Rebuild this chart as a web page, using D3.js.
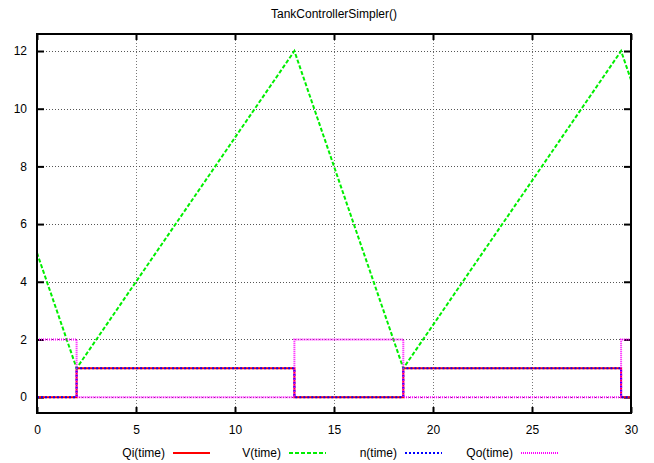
<!DOCTYPE html>
<html>
<head>
<meta charset="utf-8">
<script src="https://cdn.jsdelivr.net/npm/d3@7"></script>
<style>
  body { margin: 0; background: #fff; }
  svg { display: block; font-family: "Liberation Sans", Arial, sans-serif; }
</style>
</head>
<body>
<div id="chart"></div>
<script>
// event times of the simulation (piecewise / step data)
const times = [0, 2, 13, 18.5, 29.5, 30];
const qi = [0, 1, 0, 1, 0, 0];
const vol = [5, 1, 12, 1, 12, 11];
const nn = [0, 1, 0, 1, 0, 0];
const qo = [2, 0, 2, 0, 2, 2];

const xTicks = [0, 5, 10, 15, 20, 25, 30];
const yTicks = [0, 2, 4, 6, 8, 10, 12];

const W = 654, H = 463;
const plot = { left: 37, right: 631, top: 34, bottom: 413 };

const svg = d3.select("#chart").append("svg")
    .attr("width", W)
    .attr("height", H);

const x = d3.scaleLinear().domain([0, 30]).range([plot.left, plot.right]);
const y = d3.scaleLinear().domain([-0.55, 12.59]).range([plot.bottom, plot.top]);

// grid
const grid = svg.append("g").attr("shape-rendering", "crispEdges");
grid.selectAll(".gx")
    .data(xTicks.slice(1, -1))
    .enter().append("line")
        .attr("x1", d => Math.round(x(d)) + 0.5)
        .attr("x2", d => Math.round(x(d)) + 0.5)
        .attr("y1", plot.top)
        .attr("y2", plot.bottom)
        .attr("stroke", "#777")
        .attr("stroke-dasharray", "1,2");
grid.selectAll(".gy")
    .data(yTicks)
    .enter().append("line")
        .attr("x1", plot.left)
        .attr("x2", plot.right)
        .attr("y1", d => Math.round(y(d)) + 0.5)
        .attr("y2", d => Math.round(y(d)) + 0.5)
        .attr("stroke", "#555")
        .attr("stroke-dasharray", "1,2");

// axes (ticks inside, on all four sides)
const axB = d3.axisBottom(x).tickValues(xTicks).tickSize(-6).tickPadding(12).tickSizeOuter(0);
const axT = d3.axisTop(x).tickValues(xTicks).tickSize(-6).tickFormat("").tickSizeOuter(0);
const axL = d3.axisLeft(y).tickValues(yTicks).tickSize(-7).tickPadding(10).tickSizeOuter(0);
const axR = d3.axisRight(y).tickValues(yTicks).tickSize(-7).tickFormat("").tickSizeOuter(0);

function styleAxis(g) {
    g.select(".domain").remove();
    g.selectAll(".tick line").attr("stroke", "#000").attr("stroke-width", 2);
    g.selectAll(".tick text").attr("fill", "#000").style("font-size", "12px")
        .style("font-family", "'Liberation Sans', Arial, sans-serif");
}

svg.append("g").attr("transform", `translate(0,${plot.bottom})`).call(axB).call(styleAxis);
svg.append("g").attr("transform", `translate(0,${plot.top})`).call(axT).call(styleAxis);
svg.append("g").attr("transform", `translate(${plot.left},0)`).call(axL).call(styleAxis);
svg.append("g").attr("transform", `translate(${plot.right},0)`).call(axR).call(styleAxis);

// series
const series = [
    { name: "Qi(time)", values: qi, color: "#ff0000", dash: null, curve: d3.curveStepAfter },
    { name: "V(time)", values: vol, color: "#00ee00", dash: "4,2", curve: d3.curveLinear },
    { name: "n(time)", values: nn, color: "#0000ff", dash: "2,2", curve: d3.curveStepAfter },
    { name: "Qo(time)", values: qo, color: "#ff00ff", dash: "1,1", curve: d3.curveStepAfter }
];

svg.append("clipPath").attr("id", "clip")
    .append("rect")
        .attr("x", plot.left)
        .attr("y", plot.top)
        .attr("width", plot.right - plot.left)
        .attr("height", plot.bottom - plot.top);

const lines = svg.append("g").attr("clip-path", "url(#clip)");
series.forEach(s => {
    const line = d3.line()
        .x((d, i) => x(times[i]))
        .y(d => y(d))
        .curve(s.curve);
    lines.append("path")
        .datum(s.values)
        .attr("d", line)
        .attr("fill", "none")
        .attr("stroke", s.color)
        .attr("stroke-width", 2)
        .attr("stroke-dasharray", s.dash);
});

// frame
svg.append("rect")
    .attr("x", plot.left)
    .attr("y", plot.top)
    .attr("width", plot.right - plot.left)
    .attr("height", plot.bottom - plot.top)
    .attr("fill", "none")
    .attr("stroke", "#000")
    .attr("stroke-width", 2);

// title
svg.append("text")
    .attr("x", (plot.left + plot.right) / 2)
    .attr("y", 18)
    .attr("text-anchor", "middle")
    .style("font-size", "12px")
    .text("TankControllerSimpler()");

// legend
const legend = svg.append("g").attr("transform", "translate(0,453)");
series.forEach((s, i) => {
    const lx = 173 + i * 116;
    legend.append("text")
        .attr("x", lx - 8)
        .attr("y", 4)
        .attr("text-anchor", "end")
        .style("font-size", "12px")
        .text(s.name);
    legend.append("line")
        .attr("x1", lx)
        .attr("x2", lx + 37)
        .attr("y1", 0)
        .attr("y2", 0)
        .attr("stroke", s.color)
        .attr("stroke-width", 2)
        .attr("shape-rendering", "crispEdges")
        .attr("stroke-dasharray", s.dash);
});
</script>
</body>
</html>
